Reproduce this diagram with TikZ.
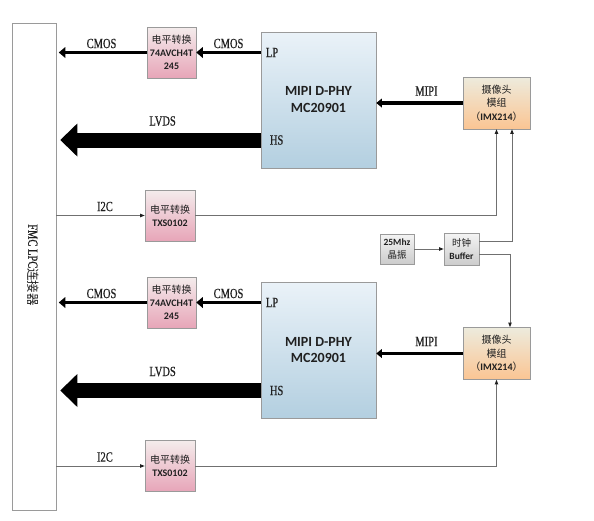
\documentclass[tikz,border=0pt]{standalone}
\usepackage{fontspec}
\setmainfont{Liberation Serif}
\newfontfamily\cjk{Noto Sans CJK SC}
\newfontfamily\cali{Carlito}
\newfontfamily\cond[FakeStretch=0.75,FakeBold=0.6]{Liberation Serif}
\usetikzlibrary{arrows.meta,shadows}
\definecolor{shTop}{HTML}{F4ECEC}
\definecolor{shBot}{HTML}{E7A5B8}
\definecolor{mpTop}{HTML}{EAF2F8}
\definecolor{mpBot}{HTML}{B3CFE0}
\definecolor{caTop}{HTML}{EDEBDD}
\definecolor{caBot}{HTML}{FBC593}
\definecolor{grTop}{HTML}{F4F4F4}
\definecolor{grBot}{HTML}{CCCCCC}
\definecolor{edge}{HTML}{9A9A9A}
\definecolor{wire}{HTML}{707070}
\definecolor{ink}{HTML}{202020}
\begin{document}
\begin{tikzpicture}[x=1pt,y=-1pt,
  box/.style={draw=edge, line width=0.6pt, inner sep=0pt, align=center, text=ink,
    drop shadow={shadow xshift=0.9pt, shadow yshift=-0.9pt, opacity=0.25, fill=black}},
  shifter/.style={box, top color=shTop, bottom color=shBot, minimum width=49pt, minimum height=51pt,
    font=\fontsize{10}{13}\selectfont},
  phy/.style={box, top color=mpTop, bottom color=mpBot, minimum width=115pt, minimum height=136pt,
    font=\cali\bfseries\fontsize{14}{17}\selectfont},
  cam/.style={box, top color=caTop, bottom color=caBot, minimum width=67pt, minimum height=52pt,
    font=\fontsize{10}{13.5}\selectfont},
  clk/.style={box, top color=grTop, bottom color=grBot, font=\fontsize{9.5}{13}\selectfont},
  connbox/.style={draw=edge, line width=0.6pt, fill=white, inner sep=0pt},
  lbl/.style={font=\cond\fontsize{14}{14}\selectfont, text=ink, inner sep=0pt},
  thinw/.style={draw=wire, line width=0.8pt, -{Triangle[length=4.5pt,width=3.6pt,line width=0pt,fill=ink]}},
  cmosw/.style={draw=black, line width=3.7pt, -{Triangle[length=6.5pt,width=11pt,line width=0pt]}},
  mipiw/.style={draw=black, line width=3.5pt, -{Triangle[length=5.5pt,width=9pt,line width=0pt]}},
  lvdsw/.style={draw=black, line width=15pt, -{Triangle[length=17pt,width=33pt,line width=0pt]}},
]
\useasboundingbox (0,0) rectangle (594,520);

% connector
\node[connbox, minimum width=44pt, minimum height=487pt] (conn) at (34,266.5) {};
\node[lbl, rotate=-90] (fmc) at (33,265) {FMC LPC{\cjk\fontsize{12.5}{12.5}\selectfont 连接器}};

% clock
\node[clk, minimum width=34pt, minimum height=30pt] (xtal) at (397,249)
  {{\cali\bfseries 25Mhz}\\{\cjk 晶振}};
\node[clk, minimum width=35pt, minimum height=32pt] (buf) at (461.5,249)
  {{\cjk 时钟}\\{\cali\bfseries Buffer}};
\draw[thinw] (xtal.east) -- (buf.west);

% ---------- upper channel ----------
\node[shifter] (lsA) at (171.5,52.5)
  {{\cjk 电平转换}\\{\cali\bfseries 74AVCH4T}\\{\cali\bfseries 245}};
\node[phy] (phyA) at (318.5,100) {MIPI D-PHY\\MC20901};
\node[cam] (camA) at (496.5,103)
  {{\cjk 摄像头}\\{\cjk 模组}\\{\cjk （}{\cali\bfseries IMX214}{\cjk ）}};
\node[shifter, minimum width=50pt] (isA) at (170,215.5)
  {{\cjk 电平转换}\\{\cali\bfseries TXS0102}};
\coordinate (hsA) at ([yshift=-40pt]phyA.west);
\node[lbl, anchor=west] (lpA) at ([xshift=5pt]lsA -| phyA.west) {LP};
\node[lbl, anchor=west] (hA) at ([xshift=9pt]hsA) {HS};

\draw[cmosw] (lsA -| phyA.west) -- node[lbl, yshift=9pt] {CMOS} (lsA.east);
\draw[cmosw, shorten >=2.5pt] (lsA.west) -- node[lbl, yshift=9pt] {CMOS} (lsA -| conn.east);
\draw[lvdsw, shorten >=4pt] (hsA) -- node[lbl, yshift=19pt, pos=0.48] {LVDS} (hsA -| conn.east);
\draw[mipiw] (camA.west) -- node[lbl, yshift=12pt, pos=0.42] {MIPI} (camA.west -| phyA.east);
\draw[thinw] (isA -| conn.east) -- node[lbl, yshift=9pt, pos=0.55] {I2C} (isA.west);
\draw[thinw] (isA.east) -| (camA.south);
\draw[thinw] ([yshift=8pt]buf.east) -| ([xshift=15.5pt]camA.south);

% ---------- lower channel ----------
\node[shifter] (lsB) at (171.5,302.5)
  {{\cjk 电平转换}\\{\cali\bfseries 74AVCH4T}\\{\cali\bfseries 245}};
\node[phy] (phyB) at (318.5,350) {MIPI D-PHY\\MC20901};
\node[cam] (camB) at (496.5,353.5)
  {{\cjk 摄像头}\\{\cjk 模组}\\{\cjk （}{\cali\bfseries IMX214}{\cjk ）}};
\node[shifter, minimum width=50pt] (isB) at (170,466)
  {{\cjk 电平转换}\\{\cali\bfseries TXS0102}};
\coordinate (hsB) at ([yshift=-40.5pt]phyB.west);
\node[lbl, anchor=west] (lpB) at ([xshift=5pt]lsB -| phyB.west) {LP};
\node[lbl, anchor=west] (hB) at ([xshift=9pt]hsB) {HS};

\draw[cmosw] (lsB -| phyB.west) -- node[lbl, yshift=9pt] {CMOS} (lsB.east);
\draw[cmosw, shorten >=2.5pt] (lsB.west) -- node[lbl, yshift=9pt] {CMOS} (lsB -| conn.east);
\draw[lvdsw, shorten >=4pt] (hsB) -- node[lbl, yshift=19pt, pos=0.48] {LVDS} (hsB -| conn.east);
\draw[mipiw] (camB.west) -- node[lbl, yshift=12pt, pos=0.42] {MIPI} (camB.west -| phyB.east);
\draw[thinw] (isB -| conn.east) -- node[lbl, yshift=9pt, pos=0.55] {I2C} (isB.west);
\draw[thinw] (isB.east) -| (camB.south);
\draw[thinw] ([yshift=-5pt]buf.east) -| ([xshift=13.5pt]camB.north);
\end{tikzpicture}
\end{document}
